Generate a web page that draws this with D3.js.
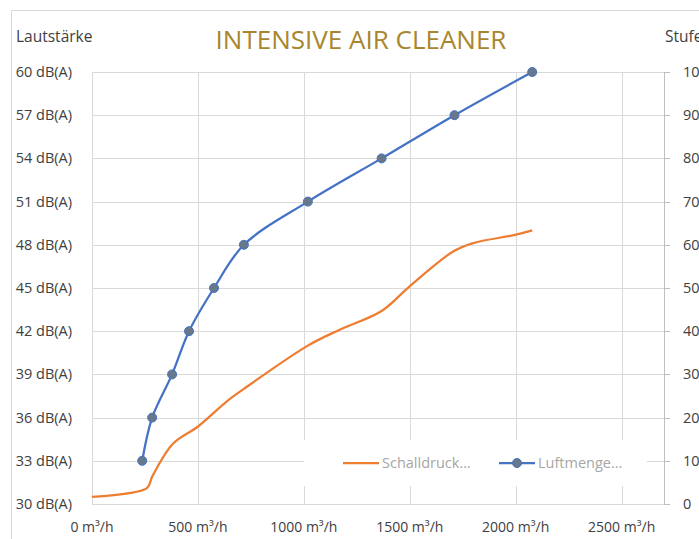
<!DOCTYPE html>
<html>
<head>
<meta charset="utf-8">
<script src="https://cdn.jsdelivr.net/npm/d3@7"></script>
<style>
 body { margin: 0; background: #fff; }
 text { font-family: "Open Sans", sans-serif; }
</style>
</head>
<body>
<div id="chart"></div>
<script>
// Luftmenge (m³/h) je Stufe
const luftX = [237, 284, 378, 458, 576, 717, 1019, 1367, 1711, 2078];
const stufe = [10, 20, 30, 40, 50, 60, 70, 80, 90, 100];

// Schalldruck dB(A) vs Luftmenge
const schallX = [0, 259, 284, 383, 502, 642, 717, 1019, 1169, 1367, 1498, 1701, 1795, 2001, 2078];
const schallDb = [30.5, 31.1, 31.9, 34.2, 35.4, 37.2, 38.0, 41.0, 42.1, 43.4, 45.1, 47.5, 48.1, 48.7, 49.0];

const xTicks = [0, 500, 1000, 1500, 2000, 2500];
const dbTicks = [30, 33, 36, 39, 42, 45, 48, 51, 54, 57, 60];
const stufeTicks = [0, 10, 20, 30, 40, 50, 60, 70, 80, 90, 100];

const width = 699;
const height = 539;
const margin = { top: 72, right: 35, bottom: 35, left: 92 };

const svg = d3
 .select("#chart")
 .append("svg")
 .attr("width", width)
 .attr("height", height);

const x = d3.scaleLinear().domain([0, 2700]).range([margin.left, width - margin.right]);
const yL = d3.scaleLinear().domain([30, 60]).range([height - margin.bottom, margin.top]);
const yR = d3.scaleLinear().domain([0, 100]).range([height - margin.bottom, margin.top]);

// Rahmen
svg
 .append("rect")
 .attr("x", 11.5)
 .attr("y", 10.5)
 .attr("width", 720)
 .attr("height", 560)
 .attr("fill", "none")
 .attr("stroke", "#d9d9d9");

// Gitter
svg
 .append("g")
 .selectAll("line")
 .data(dbTicks)
 .join("line")
 .attr("x1", x(0))
 .attr("x2", x(2700))
 .attr("y1", (d) => Math.round(yL(d)) + 0.5)
 .attr("y2", (d) => Math.round(yL(d)) + 0.5)
 .attr("stroke", "#d9d9d9");

svg
 .append("g")
 .selectAll("line")
 .data(xTicks)
 .join("line")
 .attr("x1", (d) => Math.round(x(d)) + 0.5)
 .attr("x2", (d) => Math.round(x(d)) + 0.5)
 .attr("y1", yL(60))
 .attr("y2", yL(30))
 .attr("stroke", "#d9d9d9");

// rechte Achse mit Ticks
svg
 .append("line")
 .attr("x1", Math.round(x(2700)) + 0.5)
 .attr("x2", Math.round(x(2700)) + 0.5)
 .attr("y1", yR(100))
 .attr("y2", yR(0))
 .attr("stroke", "#bfbfbf");

svg
 .append("g")
 .selectAll("line")
 .data(stufeTicks)
 .join("line")
 .attr("x1", Math.round(x(2700)))
 .attr("x2", Math.round(x(2700)) + 6)
 .attr("y1", (d) => Math.round(yR(d)) + 0.5)
 .attr("y2", (d) => Math.round(yR(d)) + 0.5)
 .attr("stroke", "#bfbfbf");

// Legendenhintergrund
svg
 .append("rect")
 .attr("x", 304)
 .attr("y", 440)
 .attr("width", 343)
 .attr("height", 46)
 .attr("fill", "#fff");

// Beschriftungen
svg
 .append("g")
 .selectAll("text")
 .data(dbTicks)
 .join("text")
 .attr("x", 72)
 .attr("y", (d) => yL(d) + 5)
 .attr("text-anchor", "end")
 .attr("font-size", 14.5)
 .attr("fill", "#404040")
 .text((d) => d + " dB(A)");

svg
 .append("g")
 .selectAll("text")
 .data(stufeTicks)
 .join("text")
 .attr("x", 683)
 .attr("y", (d) => yR(d) + 5)
 .attr("font-size", 14.5)
 .attr("fill", "#404040")
 .text((d) => d);

svg
 .append("g")
 .selectAll("text")
 .data(xTicks)
 .join("text")
 .attr("x", (d) => x(d))
 .attr("y", 532)
 .attr("text-anchor", "middle")
 .attr("font-size", 14)
 .attr("fill", "#404040")
 .text((d) => d + " m³/h");

svg
 .append("text")
 .attr("x", 16)
 .attr("y", 42)
 .attr("font-size", 15.5)
 .attr("fill", "#404040")
 .text("Lautstärke");

svg
 .append("text")
 .attr("x", 665)
 .attr("y", 42)
 .attr("font-size", 15.5)
 .attr("fill", "#404040")
 .text("Stufe");

svg
 .append("text")
 .attr("x", 361)
 .attr("y", 49)
 .attr("text-anchor", "middle")
 .attr("font-size", 26)
 .attr("fill", "#a8862e")
 .text("INTENSIVE AIR CLEANER");

// Serien
const schallLine = d3
 .line()
 .x((d) => x(d[0]))
 .y((d) => yL(d[1]))
 .curve(d3.curveCatmullRom.alpha(0.5));

svg
 .append("path")
 .datum(schallX.map((v, i) => [v, schallDb[i]]))
 .attr("d", schallLine)
 .attr("fill", "none")
 .attr("stroke", "#ed7d31")
 .attr("stroke-width", 2.25);

const luftData = luftX.map((v, i) => [v, stufe[i]]);
const luftLine = d3
 .line()
 .x((d) => x(d[0]))
 .y((d) => yR(d[1]))
 .curve(d3.curveCatmullRom.alpha(0.5));

svg
 .append("path")
 .datum(luftData)
 .attr("d", luftLine)
 .attr("fill", "none")
 .attr("stroke", "#4472c4")
 .attr("stroke-width", 2.25);

svg
 .append("g")
 .selectAll("circle")
 .data(luftData)
 .join("circle")
 .attr("cx", (d) => x(d[0]))
 .attr("cy", (d) => yR(d[1]))
 .attr("r", 4.5)
 .attr("fill", "#687889")
 .attr("stroke", "#4472c4")
 .attr("stroke-width", 1);

// Legende
const legend = svg.append("g").attr("font-size", 14.5).attr("fill", "#a6a6a6");
legend
 .append("line")
 .attr("x1", 343)
 .attr("x2", 379)
 .attr("y1", 463)
 .attr("y2", 463)
 .attr("stroke", "#ed7d31")
 .attr("stroke-width", 2.25);
legend.append("text").attr("x", 382).attr("y", 468).text("Schalldruck...");
legend
 .append("line")
 .attr("x1", 499)
 .attr("x2", 535)
 .attr("y1", 463)
 .attr("y2", 463)
 .attr("stroke", "#4472c4")
 .attr("stroke-width", 2.25);
legend
 .append("circle")
 .attr("cx", 517)
 .attr("cy", 463)
 .attr("r", 4.5)
 .attr("fill", "#687889")
 .attr("stroke", "#4472c4");
legend.append("text").attr("x", 538).attr("y", 468).text("Luftmenge...");
</script>
</body>
</html>
